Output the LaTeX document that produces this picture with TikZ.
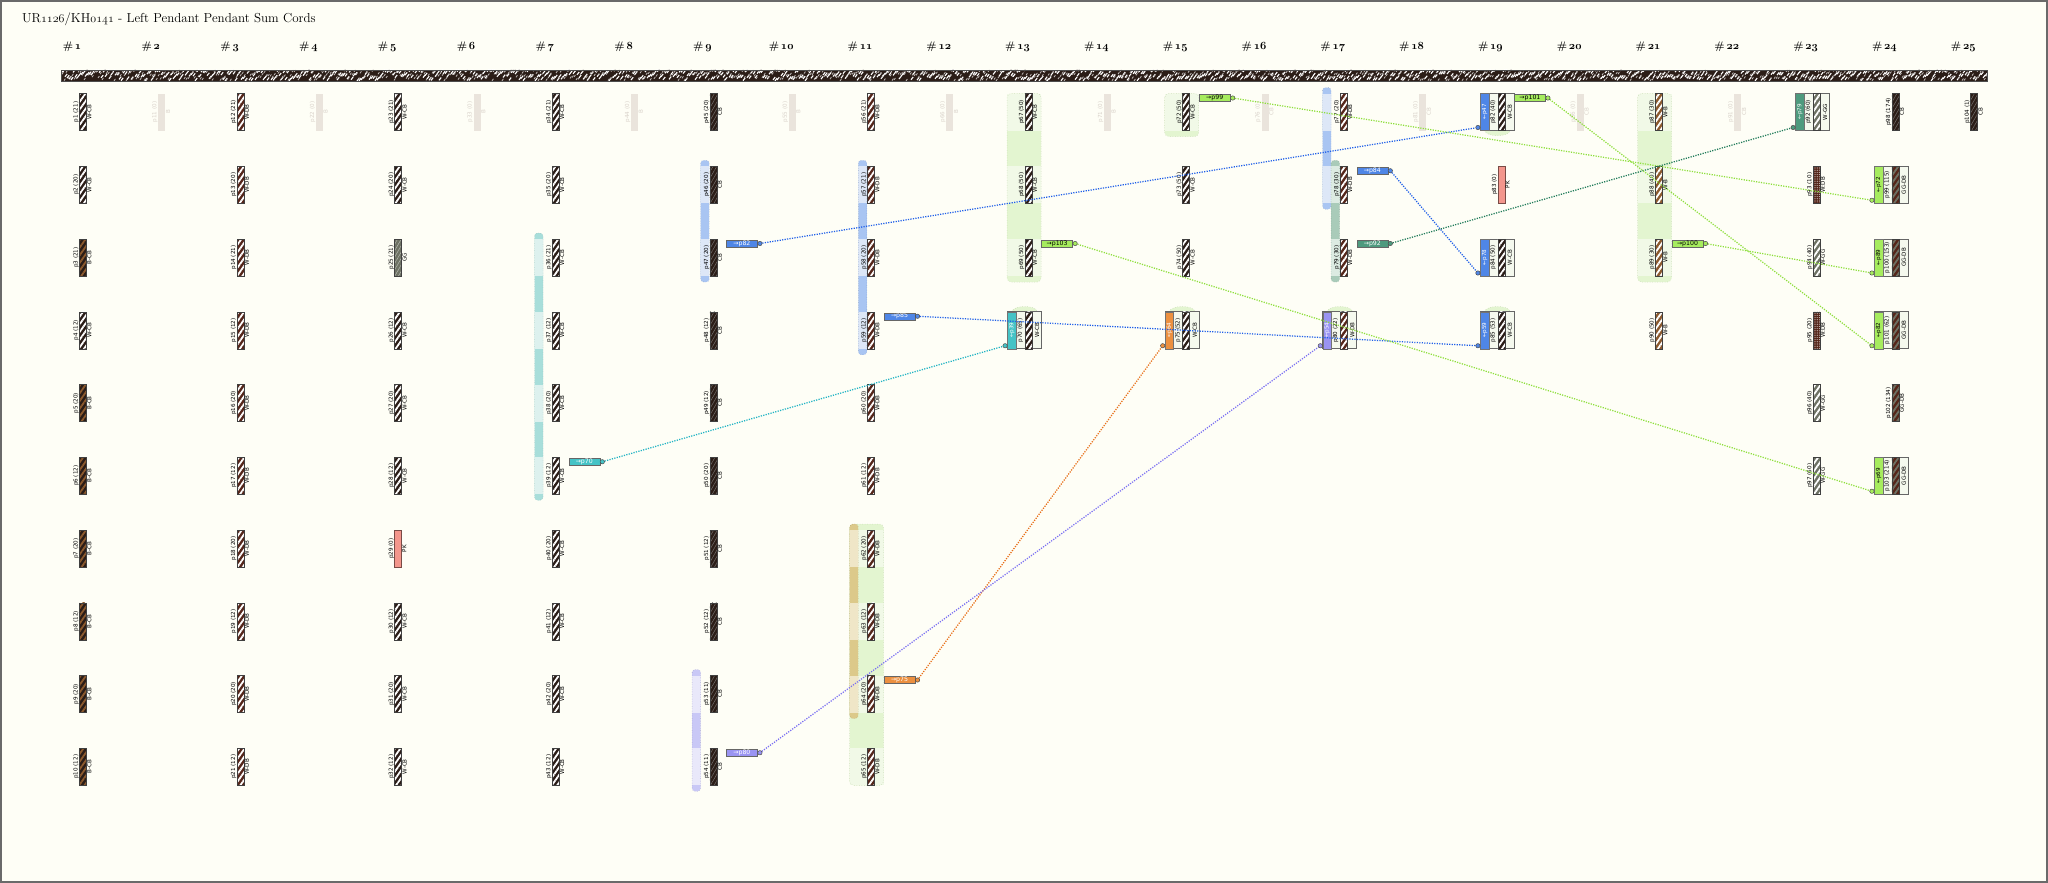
\documentclass[tikz,border=0pt]{standalone}
\usepackage{fontspec}
\newfontfamily\lblfont{DejaVu Sans}
\usetikzlibrary{patterns.meta}
\definecolor{bgc}{HTML}{FEFEF6}
\definecolor{framec}{HTML}{6A6A6A}
\definecolor{cbc}{HTML}{2B1D17}
\definecolor{dbc}{HTML}{55261A}
\definecolor{bc}{HTML}{8C5A2E}
\definecolor{ggc}{HTML}{6E7264}
\definecolor{pkc}{HTML}{F3968C}
\definecolor{ghostc}{HTML}{EAE4DC}
\definecolor{ghosttxt}{HTML}{D9D2CA}
\definecolor{sumbg}{HTML}{F5F9EE}
\definecolor{tagblue}{HTML}{4F86E6}
\definecolor{lnblue}{HTML}{1F5FE8}
\definecolor{tagcyan}{HTML}{45C3C6}
\definecolor{lncyan}{HTML}{1FB3C3}
\definecolor{tagorange}{HTML}{EC9040}
\definecolor{lnorange}{HTML}{E8701A}
\definecolor{tagpurple}{HTML}{9A94F2}
\definecolor{lnpurple}{HTML}{7B70F2}
\definecolor{taggreen}{HTML}{A6EC5E}
\definecolor{lngreen}{HTML}{8EDF3C}
\definecolor{tagdkgreen}{HTML}{4E9A7E}
\definecolor{lndkgreen}{HTML}{1E7A58}
\definecolor{grpD}{HTML}{E3F5D0}
\definecolor{grpL}{HTML}{F1F9E7}
\definecolor{grpline}{HTML}{BFD3AA}
\definecolor{tealD}{HTML}{A8DEDA}
\definecolor{tealL}{HTML}{DDF1EE}
\definecolor{blueD}{HTML}{A9C5F2}
\definecolor{blueL}{HTML}{DDE7F7}
\definecolor{purD}{HTML}{C9C8F6}
\definecolor{purL}{HTML}{E9E8FA}
\definecolor{tanD}{HTML}{DCC98A}
\definecolor{tanL}{HTML}{EFE6C7}
\definecolor{ggD}{HTML}{A9CBB9}
\definecolor{ggL}{HTML}{DCEBE2}
\newcommand\osf[1]{{\usefont{OML}{cmm}{m}{it}#1}}
\newcommand\osfb[1]{{\usefont{OML}{cmm}{b}{it}#1}}
\pgfdeclarelayer{top}
\pgfsetlayers{main,top}
\tikzset{
 cord/.style={draw=black!75, line width=0.5pt, minimum width=7pt, minimum height=37pt, inner sep=0pt, outer sep=0pt},
 stripes/.style 2 args={preaction={fill=#1}, pattern={Lines[angle=55,distance=4.4pt,line width=1.8pt]}, pattern color=#2},
 thin/.style 2 args={preaction={fill=#1}, pattern={Lines[angle=60,distance=3.2pt,line width=0.5pt]}, pattern color=#2},
 cWCB/.style={stripes={cbc}{white}},
 cWDB/.style={stripes={dbc}{white}},
 cBCB/.style={stripes={cbc}{bc}},
 cWB/.style={stripes={bc}{white}},
 cWGG/.style={stripes={ggc}{white}},
 cGGDB/.style={stripes={dbc}{ggc}},
 cCB/.style={thin={cbc}{black!45!cbc!60!white}},
 cGG/.style={thin={ggc}{ggc!50!white}},
 cPK/.style={fill=pkc, draw=pkc!50!black},
 cWDBm/.style={preaction={fill=dbc}, pattern={Dots[radius=0.6pt,distance=2.2pt]}, pattern color=white!70!dbc},
 ghost/.style={fill=ghostc, draw=none},
 lbl/.style={font=\lblfont\fontsize{5.6}{6}\selectfont, rotate=90, inner sep=0.3pt},
 sumbox/.style={draw=black!60, line width=0.7pt, fill=sumbg, minimum width=34pt, minimum height=37pt, inner sep=0pt},
 seg/.style={draw=black!55, line width=0.5pt, minimum width=8.5pt, minimum height=37pt, inner sep=0pt},
 tag/.style={draw=black!60, line width=0.5pt, minimum width=31pt, minimum height=7pt, inner sep=0pt, font=\lblfont\fontsize{6.2}{6.5}\selectfont},
 dot/.style={circle, draw=black!70, line width=0.5pt, minimum size=4.4pt, inner sep=0pt},
 conn/.style={line width=1.25pt, dash pattern=on 1.2pt off 1.3pt},
 hdr/.style={font=\bfseries\fontsize{11}{12}\selectfont, inner sep=0pt},
}
\newcommand\setc[2]{\pgfmathsetmacro\cx{83+78.8*(#1-1)}\pgfmathsetmacro\cy{112+72.75*(#2-1)}}
\newcommand\Pend[6]{\setc{#2}{#3}%
 \node[cord,#6] (#1) at (\cx,\cy) {};%
 \node[lbl,anchor=south] (#1-l) at (\cx-3.7,\cy) {#4};%
 \node[lbl,anchor=north] (#1-t) at (\cx+3.7,\cy) {#5};}
\newcommand\Ghost[4]{\setc{#2}{1}%
 \node[cord,ghost] (#1) at (\cx,\cy) {};%
 \node[lbl,anchor=south,text=ghosttxt] (#1-l) at (\cx-3.7,\cy) {#3};%
 \node[lbl,anchor=north,text=ghosttxt] (#1-t) at (\cx+3.7,\cy) {#4};}
\newcommand\Sum[9]{\setc{#2}{#3}%
 \node[sumbox] (#1-box) at (\cx-4,\cy) {};%
 \node[seg,fill=#8] (#1-seg) at (\cx-16.75,\cy) {};%
 \node[lbl,text=#9] (#1-s) at (\cx-16.75,\cy) {#7};%
 \node[lbl] (#1-l) at (\cx-8.25,\cy) {#4};%
 \node[cord,#6] (#1) at (\cx,\cy) {};%
 \node[lbl] (#1-t) at (\cx+8.5,\cy) {#5};%
 \begin{pgfonlayer}{top}\node[dot,fill=#8] (#1-in) at (\cx-23.5,\cy+15.5) {};\end{pgfonlayer}}
\newcommand\Tag[6]{\setc{#2}{#3}%
 \begin{pgfonlayer}{top}%
 \node[tag,fill=#5,text=#6] (#1-tag) at (\cx+28.5,\cy-14) {#4};%
 \node[dot,fill=#5] (#1-out) at (\cx+46.5,\cy-14) {};%
 \end{pgfonlayer}}
% lane bar: col, r1, r2, x offset, dark, light
\newcommand\Lane[6]{\setc{#1}{#2}\pgfmathsetmacro\ya{\cy-24.5}\setc{#1}{#3}\pgfmathsetmacro\yb{\cy+24.5}%
 \fill[#5, rounded corners=3pt] (\cx+#4,\ya) rectangle (\cx+#4+8.5,\yb);%
 \foreach \r in {#2,...,#3}{\setc{#1}{\r}\fill[#6] (\cx+#4,\cy-18.5) rectangle (\cx+#4+8.5,\cy+18.5);}%
 \draw[#5!75!black, line width=0.4pt, dotted, rounded corners=3pt] (\cx+#4,\ya) rectangle (\cx+#4+8.5,\yb);}
% green group: col, r1, r2, top ext, bottom ext
\newcommand\Grp[5]{\setc{#1}{#2}\pgfmathsetmacro\ya{\cy-18.5-#4}\setc{#1}{#3}\pgfmathsetmacro\yb{\cy+18.5+#5}%
 \fill[grpD, rounded corners=4pt] (\cx-21.5,\ya) rectangle (\cx+12.5,\yb);%
 \foreach \r in {#2,...,#3}{\setc{#1}{\r}\fill[grpL] (\cx-21.5,\cy-18.5) rectangle (\cx+12.5,\cy+18.5);}%
 \draw[grpline, line width=0.5pt, dotted, rounded corners=4pt] (\cx-21.5,\ya) rectangle (\cx+12.5,\yb);}
\newcommand\Cap[3]{\setc{#1}{#2}\pgfmathsetmacro\ya{\cy+#3*18.5}%
 \filldraw[fill=grpD, draw=grpline, line width=0.5pt, dotted] (\cx-17,\ya) .. controls (\cx-15,\ya+#3*7) and (\cx+7,\ya+#3*7) .. (\cx+9,\ya) -- cycle;}
\begin{document}
\begin{tikzpicture}[x=1pt,y=-1pt]
\useasboundingbox (0,0) rectangle (2048,883);
\fill[bgc] (0,0) rectangle (2048,883);
\draw[framec, line width=2pt] (1,1) rectangle (2047,882);
\node[anchor=west, font=\fontsize{13}{15}\selectfont, inner sep=0pt] (title) at (22,19) {UR\osf{1126}/KH\osf{0141} - Left Pendant Pendant Sum Cords};
\foreach \k in {1,...,25}{\node[hdr] (h\k) at ({83+78.8*(\k-1)-11},47) {\#\,\osfb{\k}};}
% primary cord
\begin{scope}
\clip (61,70) rectangle (1987,81);
\fill[cbc] (61,70) rectangle (1987,81);
\pgfmathsetseed{42}
\foreach \i in {0,...,962}{
  \pgfmathsetmacro\xa{61+2*\i}
  \pgfmathsetmacro\ya{71+10*rnd}
  \pgfmathsetmacro\yb{71+10*rnd}
  \draw[white, line width=1.1pt] (\xa,\ya) -- ++(2.2,-2.8);
  \draw[white!70!cbc, line width=0.8pt] (\xa+1,\yb) -- ++(1.4,-2);
}
\end{scope}
\draw[black!70, line width=0.6pt] (61,70) rectangle (1987,81);
% groups
\Grp{13}{1}{3}{0}{6}
\Grp{15}{1}{1}{0}{6}
\Grp{21}{1}{3}{0}{6}
\Grp{11}{7}{10}{6}{0}
\Cap{13}{4}{-1}
\Cap{15}{4}{-1}
\Cap{17}{4}{-1}
\Cap{19}{4}{-1}
\Cap{19}{1}{1}
% lane bars
\Lane{7}{3}{6}{-21.3}{tealD}{tealL}
\Lane{9}{2}{3}{-12.7}{blueD}{blueL}
\Lane{9}{9}{10}{-21.3}{purD}{purL}
\Lane{11}{2}{4}{-12.7}{blueD}{blueL}
\Lane{11}{7}{9}{-21.3}{tanD}{tanL}
\Lane{17}{1}{2}{-21.3}{blueD}{blueL}
\Lane{17}{2}{3}{-12.7}{ggD}{ggL}
% column 1
\Pend{p1}{1}{1}{p1 (21)}{W-CB}{cWCB}
\Pend{p2}{1}{2}{p2 (20)}{W-CB}{cWCB}
\Pend{p3}{1}{3}{p3 (21)}{B-CB}{cBCB}
\Pend{p4}{1}{4}{p4 (12)}{W-CB}{cWCB}
\Pend{p5}{1}{5}{p5 (20)}{B-CB}{cBCB}
\Pend{p6}{1}{6}{p6 (12)}{B-CB}{cBCB}
\Pend{p7}{1}{7}{p7 (20)}{B-CB}{cBCB}
\Pend{p8}{1}{8}{p8 (12)}{B-CB}{cBCB}
\Pend{p9}{1}{9}{p9 (20)}{B-CB}{cBCB}
\Pend{p10}{1}{10}{p10 (12)}{B-CB}{cBCB}
% ghosts
\Ghost{p11}{2}{p11 (0)}{B}
\Ghost{p22}{4}{p22 (0)}{B}
\Ghost{p33}{6}{p33 (0)}{B}
\Ghost{p44}{8}{p44 (0)}{B}
\Ghost{p55}{10}{p55 (0)}{B}
\Ghost{p66}{12}{p66 (0)}{B}
\Ghost{p71}{14}{p71 (0)}{B}
\Ghost{p76}{16}{p76 (0)}{CB}
\Ghost{p81}{18}{p81 (0)}{CB}
\Ghost{p86}{20}{p86 (0)}{CB}
\Ghost{p91}{22}{p91 (0)}{CB}
% column 3
\Pend{p12}{3}{1}{p12 (21)}{W-DB}{cWDB}
\Pend{p13}{3}{2}{p13 (20)}{W-DB}{cWDB}
\Pend{p14}{3}{3}{p14 (21)}{W-DB}{cWDB}
\Pend{p15}{3}{4}{p15 (12)}{W-DB}{cWDB}
\Pend{p16}{3}{5}{p16 (20)}{W-DB}{cWDB}
\Pend{p17}{3}{6}{p17 (12)}{W-DB}{cWDB}
\Pend{p18}{3}{7}{p18 (20)}{W-DB}{cWDB}
\Pend{p19}{3}{8}{p19 (12)}{W-DB}{cWDB}
\Pend{p20}{3}{9}{p20 (20)}{W-DB}{cWDB}
\Pend{p21}{3}{10}{p21 (12)}{W-DB}{cWDB}
% column 5
\Pend{p23}{5}{1}{p23 (21)}{W-CB}{cWCB}
\Pend{p24}{5}{2}{p24 (20)}{W-CB}{cWCB}
\Pend{p25}{5}{3}{p25 (21)}{GG}{cGG}
\Pend{p26}{5}{4}{p26 (12)}{W-CB}{cWCB}
\Pend{p27}{5}{5}{p27 (20)}{W-CB}{cWCB}
\Pend{p28}{5}{6}{p28 (12)}{W-CB}{cWCB}
\Pend{p29}{5}{7}{p29 (0)}{PK}{cPK}
\Pend{p30}{5}{8}{p30 (12)}{W-CB}{cWCB}
\Pend{p31}{5}{9}{p31 (20)}{W-CB}{cWCB}
\Pend{p32}{5}{10}{p32 (12)}{W-CB}{cWCB}
% column 7
\Pend{p34}{7}{1}{p34 (21)}{W-CB}{cWCB}
\Pend{p35}{7}{2}{p35 (20)}{W-CB}{cWCB}
\Pend{p36}{7}{3}{p36 (21)}{W-CB}{cWCB}
\Pend{p37}{7}{4}{p37 (12)}{W-CB}{cWCB}
\Pend{p38}{7}{5}{p38 (20)}{W-CB}{cWCB}
\Pend{p39}{7}{6}{p39 (12)}{W-CB}{cWCB}
\Pend{p40}{7}{7}{p40 (20)}{W-CB}{cWCB}
\Pend{p41}{7}{8}{p41 (12)}{W-CB}{cWCB}
\Pend{p42}{7}{9}{p42 (20)}{W-CB}{cWCB}
\Pend{p43}{7}{10}{p43 (12)}{W-CB}{cWCB}
% column 9
\Pend{p45}{9}{1}{p45 (20)}{CB}{cCB}
\Pend{p46}{9}{2}{p46 (20)}{CB}{cCB}
\Pend{p47}{9}{3}{p47 (20)}{CB}{cCB}
\Pend{p48}{9}{4}{p48 (12)}{CB}{cCB}
\Pend{p49}{9}{5}{p49 (12)}{CB}{cCB}
\Pend{p50}{9}{6}{p50 (20)}{CB}{cCB}
\Pend{p51}{9}{7}{p51 (12)}{CB}{cCB}
\Pend{p52}{9}{8}{p52 (12)}{CB}{cCB}
\Pend{p53}{9}{9}{p53 (11)}{CB}{cCB}
\Pend{p54}{9}{10}{p54 (11)}{CB}{cCB}
% column 11
\Pend{p56}{11}{1}{p56 (21)}{W-DB}{cWDB}
\Pend{p57}{11}{2}{p57 (21)}{W-DB}{cWDB}
\Pend{p58}{11}{3}{p58 (20)}{W-DB}{cWDB}
\Pend{p59}{11}{4}{p59 (12)}{W-DB}{cWDB}
\Pend{p60}{11}{5}{p60 (20)}{W-DB}{cWDB}
\Pend{p61}{11}{6}{p61 (12)}{W-DB}{cWDB}
\Pend{p62}{11}{7}{p62 (20)}{W-DB}{cWDB}
\Pend{p63}{11}{8}{p63 (12)}{W-DB}{cWDB}
\Pend{p64}{11}{9}{p64 (20)}{W-DB}{cWDB}
\Pend{p65}{11}{10}{p65 (12)}{W-DB}{cWDB}
% column 13
\Pend{p67}{13}{1}{p67 (50)}{W-CB}{cWCB}
\Pend{p68}{13}{2}{p68 (50)}{W-CB}{cWCB}
\Pend{p69}{13}{3}{p69 (50)}{W-CB}{cWCB}
\Sum{p70}{13}{4}{p70 (65)}{W-CB}{cWCB}{\textleftarrow p39}{tagcyan}{white}
% column 15
\Pend{p72}{15}{1}{p72 (50)}{W-CB}{cWCB}
\Pend{p73}{15}{2}{p73 (50)}{W-CB}{cWCB}
\Pend{p74}{15}{3}{p74 (50)}{W-CB}{cWCB}
\Sum{p75}{15}{4}{p75 (52)}{W-CB}{cWCB}{\textleftarrow p64}{tagorange}{white}
% column 17
\Pend{p77}{17}{1}{p77 (20)}{W-DB}{cWDB}
\Pend{p78}{17}{2}{p78 (30)}{W-DB}{cWDB}
\Pend{p79}{17}{3}{p79 (30)}{W-DB}{cWDB}
\Sum{p80}{17}{4}{p80 (22)}{W-DB}{cWDB}{\textleftarrow p54}{tagpurple}{white}
% column 19
\Sum{p82}{19}{1}{p82 (40)}{W-CB}{cWCB}{\textleftarrow p47}{tagblue}{white}
\Pend{p83}{19}{2}{p83 (0)}{PK}{cPK}
\Sum{p84}{19}{3}{p84 (50)}{W-CB}{cWCB}{\textleftarrow p78}{tagblue}{white}
\Sum{p85}{19}{4}{p85 (53)}{W-CB}{cWCB}{\textleftarrow p59}{tagblue}{white}
% column 21
\Pend{p87}{21}{1}{p87 (30)}{W-B}{cWB}
\Pend{p88}{21}{2}{p88 (40)}{W-B}{cWB}
\Pend{p89}{21}{3}{p89 (30)}{W-B}{cWB}
\Pend{p90}{21}{4}{p90 (50)}{W-B}{cWB}
% column 23
\Sum{p92}{23}{1}{p92 (60)}{W-GG}{cWGG}{\textleftarrow p79}{tagdkgreen}{white}
\Pend{p93}{23}{2}{p93 (10)}{W:DB}{cWDBm}
\Pend{p94}{23}{3}{p94 (40)}{W-GG}{cWGG}
\Pend{p95}{23}{4}{p95 (20)}{W:DB}{cWDBm}
\Pend{p96}{23}{5}{p96 (40)}{W-GG}{cWGG}
\Pend{p97}{23}{6}{p97 (60)}{W-GG}{cWGG}
% column 24
\Pend{p98}{24}{1}{p98 (174)}{CB}{cCB}
\Sum{p99}{24}{2}{p99 (115)}{GG-DB}{cGGDB}{\textleftarrow p72}{taggreen}{black}
\Sum{p100}{24}{3}{p100 (153)}{GG-DB}{cGGDB}{\textleftarrow p89}{taggreen}{black}
\Sum{p101}{24}{4}{p101 (62)}{GG-DB}{cGGDB}{\textleftarrow p82}{taggreen}{black}
\Pend{p102}{24}{5}{p102 (134)}{GG-DB}{cGGDB}
\Sum{p103}{24}{6}{p103 (214)}{GG-DB}{cGGDB}{\textleftarrow p69}{taggreen}{black}
% column 25
\Pend{p104}{25}{1}{p104 (1)}{CB}{cCB}
% tags
\Tag{p39}{7}{6}{\textrightarrow p70}{tagcyan}{white}
\Tag{p47}{9}{3}{\textrightarrow p82}{tagblue}{white}
\Tag{p59}{11}{4}{\textrightarrow p85}{tagblue}{white}
\Tag{p64}{11}{9}{\textrightarrow p75}{tagorange}{white}
\Tag{p54}{9}{10}{\textrightarrow p80}{tagpurple}{white}
\Tag{p69}{13}{3}{\textrightarrow p103}{taggreen}{black}
\Tag{p72}{15}{1}{\textrightarrow p99}{taggreen}{black}
\Tag{p78}{17}{2}{\textrightarrow p84}{tagblue}{white}
\Tag{p79}{17}{3}{\textrightarrow p92}{tagdkgreen}{white}
\Tag{p82}{19}{1}{\textrightarrow p101}{taggreen}{black}
\Tag{p89}{21}{3}{\textrightarrow p100}{taggreen}{black}
% connectors
\draw[conn, lncyan] (p39-out) -- (p70-in);
\draw[conn, lnblue] (p47-out) -- (p82-in);
\draw[conn, lnblue] (p59-out) -- (p85-in);
\draw[conn, lnorange] (p64-out) -- (p75-in);
\draw[conn, lnpurple] (p54-out) -- (p80-in);
\draw[conn, lngreen] (p69-out) -- (p103-in);
\draw[conn, lngreen] (p72-out) -- (p99-in);
\draw[conn, lnblue] (p78-out) -- (p84-in);
\draw[conn, lndkgreen] (p79-out) -- (p92-in);
\draw[conn, lngreen] (p82-out) -- (p101-in);
\draw[conn, lngreen] (p89-out) -- (p100-in);
\end{tikzpicture}
\end{document}
